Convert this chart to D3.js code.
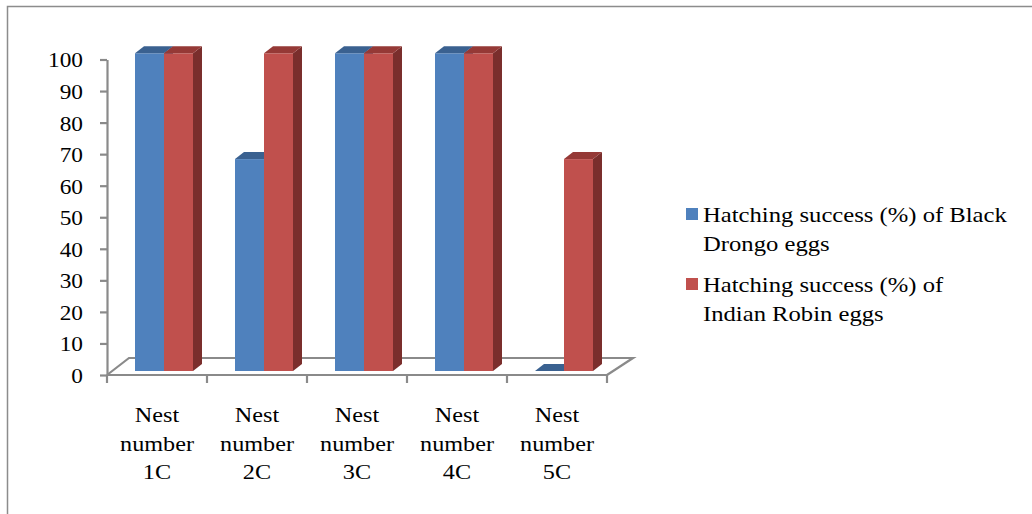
<!DOCTYPE html>
<html>
<head>
<meta charset="utf-8">
<script src="https://cdn.jsdelivr.net/npm/d3@7"></script>
<style>
  html, body { margin: 0; padding: 0; background: #fff; }
  svg { display: block; }
  text { font-family: "Liberation Serif", "Times New Roman", serif; fill: #000; }
</style>
</head>
<body>
<svg id="chart" width="1032" height="514"></svg>
<script>
// Hatching success per nest
const categories = ["1C", "2C", "3C", "4C", "5C"];
const categoryLines = [["Nest", "number", "1C"], ["Nest", "number", "2C"], ["Nest", "number", "3C"], ["Nest", "number", "4C"], ["Nest", "number", "5C"]];
const seriesNames = ["Hatching success (%) of Black Drongo eggs", "Hatching success (%) of Indian Robin eggs"];
const legendLines = [["Hatching success (%) of Black", "Drongo eggs"], ["Hatching success (%) of", "Indian Robin eggs"]];
const drongoValues = [100, 66.7, 100, 100, 0];
const robinValues = [100, 100, 100, 100, 66.7];
const yTicks = [0, 10, 20, 30, 40, 50, 60, 70, 80, 90, 100];

const palette = {
  front: ["#4F81BD", "#C0504D"],
  top:   ["#3A6190", "#953936"],
  side:  ["#35577F", "#7A2E2C"]
};
const axisGrey = "#8A8A8A";

const svg = d3.select("#chart");

// outer frame
svg.append("rect")
  .attr("x", 7.5).attr("y", 6.5)
  .attr("width", 1100).attr("height", 600)
  .attr("fill", "none").attr("stroke", "#8C8C8C").attr("stroke-width", 1.5);

// scales
const x = d3.scaleBand().domain(categories).range([107, 607]).paddingInner(0).paddingOuter(0);
const xs = d3.scaleBand().domain(seriesNames).range([28, 86]).paddingInner(0).paddingOuter(0);
const y = d3.scaleLinear().domain([0, 100]).range([375, 59.5]);
// bars stand slightly into the floor, so their front faces project a little higher
const yBar = d3.scaleLinear().domain([0, 100]).range([371, 53.3]);

const floorDepth = { leftDx: 22, rightDx: 26, dy: -17 };
const barDepth = { dx: 9, dy: -7 };

// stretches a text element horizontally to the glyph widths used in the chart
function widen(sel, k) {
  sel.each(function () {
    const w = this.getComputedTextLength();
    d3.select(this).attr("textLength", w * k).attr("lengthAdjust", "spacingAndGlyphs");
  });
}

// floor outline (back and sides)
const [x0, x1] = x.range();
const floorY = y(0);
const floor = d3.path();
floor.moveTo(x0, floorY);
floor.lineTo(x0 + floorDepth.leftDx, floorY + floorDepth.dy);
floor.lineTo(x1 + floorDepth.rightDx, floorY + floorDepth.dy);
floor.lineTo(x1, floorY);
svg.append("path").attr("d", floor.toString())
  .attr("fill", "none").attr("stroke", axisGrey).attr("stroke-width", 2.2);

// bars
const rows = categories.map((c, i) => ({ cat: c, values: [drongoValues[i], robinValues[i]] }));
const barData = [];
rows.forEach(r => r.values.forEach((v, s) => barData.push({ cat: r.cat, s, v })));

const gBars = svg.append("g");
barData.forEach(d => {
  const bx = x(d.cat) + xs(seriesNames[d.s]);
  const bw = xs.bandwidth();
  const yb = yBar(0), yt = yBar(d.v);
  const g = gBars.append("g");
  // front face
  if (yb - yt > 0) {
    g.append("rect").attr("x", bx).attr("y", yt).attr("width", bw).attr("height", yb - yt)
      .attr("fill", palette.front[d.s]);
  }
  // side face
  g.append("path")
    .attr("d", `M${bx + bw},${yt} L${bx + bw + barDepth.dx},${yt + barDepth.dy} L${bx + bw + barDepth.dx},${yb + barDepth.dy} L${bx + bw},${yb} Z`)
    .attr("fill", palette.side[d.s]);
  // top face
  g.append("path")
    .attr("d", `M${bx},${yt} L${bx + barDepth.dx},${yt + barDepth.dy} L${bx + bw + barDepth.dx},${yt + barDepth.dy} L${bx + bw},${yt} Z`)
    .attr("fill", palette.top[d.s]);
});

// y axis
const yAxis = d3.axisLeft(y).tickValues(yTicks).tickSize(7).tickSizeOuter(0).tickPadding(17);
const gy = svg.append("g").attr("transform", `translate(${x0},0)`).call(yAxis);
gy.select(".domain").attr("stroke", axisGrey).attr("stroke-width", 2.2);
gy.selectAll(".tick line").attr("stroke", axisGrey).attr("stroke-width", 2.2);
gy.selectAll(".tick text")
  .attr("font-family", "Liberation Serif, Times New Roman, serif")
  .attr("font-size", 22).attr("fill", "#000").attr("dy", "0.34em")
  .call(widen, 1.06);

// x axis: front floor edge with ticks at category boundaries
const gx = svg.append("g");
gx.append("line").attr("x1", x0).attr("x2", x1).attr("y1", floorY).attr("y2", floorY)
  .attr("stroke", axisGrey).attr("stroke-width", 2.2);
const boundaries = categories.map(c => x(c)).concat([x1]);
gx.selectAll("line.tick").data(boundaries).join("line").attr("class", "tick")
  .attr("x1", d => d).attr("x2", d => d)
  .attr("y1", floorY).attr("y2", floorY + 8)
  .attr("stroke", axisGrey).attr("stroke-width", 2.2);

const labelBaselines = [422, 451, 479];
categories.forEach((c, i) => {
  const cx = x(c) + x.bandwidth() / 2;
  categoryLines[i].forEach((line, j) => {
    gx.append("text").attr("x", cx).attr("y", labelBaselines[j])
      .attr("text-anchor", "middle").attr("font-size", 22).text(line)
      .call(widen, 1.1);
  });
});

// legend
const legend = svg.append("g");
const legendTop = [208, 278];
seriesNames.forEach((name, s) => {
  legend.append("rect").attr("x", 686).attr("y", legendTop[s]).attr("width", 12).attr("height", 12)
    .attr("fill", palette.front[s]);
  legendLines[s].forEach((line, j) => {
    legend.append("text").attr("x", 703).attr("y", legendTop[s] + 14 + j * 29)
      .attr("font-size", 22).text(line)
      .call(widen, 1.12);
  });
});
</script>
</body>
</html>
